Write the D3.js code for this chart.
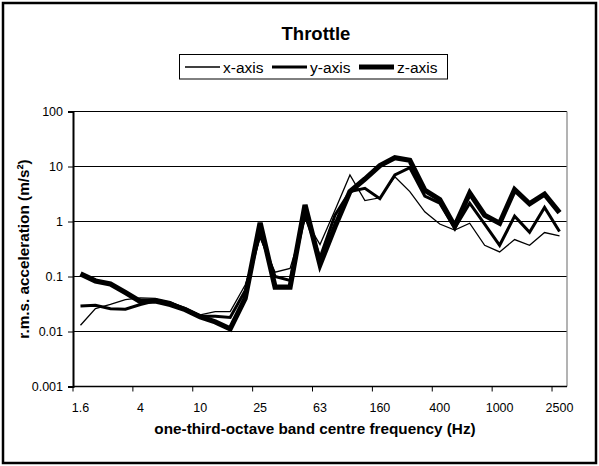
<!DOCTYPE html>
<html><head><meta charset="utf-8">
<script src="https://cdn.jsdelivr.net/npm/d3@7"></script>
<style>body{margin:0;background:#fff}svg{display:block}text{font-family:"Liberation Sans",Arial,sans-serif}</style>
</head><body>
<script>
const categories = ["1.6","2","2.5","3.15","4","5","6.3","8","10","12.5","16","20","25","31.5","40","50","63","80","100","125","160","200","250","315","400","500","630","800","1000","1250","1600","2000","2500"];
const xAxisValues = [0.013,0.026,0.031,0.038,0.041,0.040,0.035,0.026,0.020,0.023,0.023,0.07,0.5,0.12,0.14,1.1,0.38,1.6,7.0,2.4,2.7,6.5,3.5,1.5,0.9,0.7,0.93,0.37,0.28,0.47,0.37,0.63,0.55];
const yAxisValues = [0.029,0.030,0.026,0.0255,0.031,0.036,0.033,0.026,0.019,0.019,0.018,0.055,0.6,0.1,0.085,1.3,0.22,1.3,3.5,4.0,2.6,7.0,9.5,2.9,2.15,0.76,2.15,0.9,0.37,1.25,0.64,1.8,0.66];
const zAxisValues = [0.112,0.083,0.073,0.051,0.035,0.036,0.031,0.025,0.0185,0.015,0.0112,0.04,0.95,0.064,0.064,2.0,0.165,0.8,3.5,5.9,10.4,14.5,13,3.7,2.5,0.82,3.3,1.3,0.93,3.8,2.1,3.15,1.45];
const seriesNames = ["x-axis","y-axis","z-axis"];
const yTicks = [0.001,0.01,0.1,1,10,100];
const xTickLabels = ["1.6","4","10","25","63","160","400","1000","2500"];
const title = "Throttle";
const xTitle = "one-third-octave band centre frequency (Hz)";
const yTitle = "r.m.s. acceleration (m/s²)";

const W = 599, H = 466;
const plot = {l: 73, r: 567, t: 111.5, b: 386.5};
const svg = d3.select("body").append("svg").attr("width", W).attr("height", H);

svg.append("rect").attr("x", 3).attr("y", 3).attr("width", W - 6).attr("height", H - 6)
  .attr("fill", "#fff").attr("stroke", "#000").attr("stroke-width", 2.5);

const x = d3.scaleBand().domain(categories).range([plot.l, plot.r]).padding(0);
const y = d3.scaleLog().domain([0.001, 100]).range([plot.b, plot.t]);

// gridlines
svg.append("g").selectAll("line").data(yTicks.filter(v => v > 0.001)).join("line")
  .attr("x1", plot.l).attr("x2", plot.r).attr("y1", d => y(d)).attr("y2", d => y(d))
  .attr("stroke", "#000").attr("stroke-width", 1);
// right border
svg.append("line").attr("x1", plot.r).attr("x2", plot.r).attr("y1", plot.t).attr("y2", plot.b)
  .attr("stroke", "#808080").attr("stroke-width", 1.2);

// y axis
const yAxis = d3.axisLeft(y).tickValues(yTicks).tickFormat(d => String(d)).tickSize(5).tickPadding(5);
const gy = svg.append("g").attr("transform", `translate(${plot.l},0)`).call(yAxis);
gy.select(".domain").attr("stroke", "#000").attr("stroke-width", 2);
gy.selectAll(".tick line").attr("stroke", "#000").attr("stroke-width", 1);
gy.selectAll("text").attr("font-size", "12.5px").attr("fill", "#000").attr("font-family", '"Liberation Sans",Arial,sans-serif');

// x axis: ticks at category boundaries every 4, labels centred in category
const tickPos = xTickLabels.map(c => x(c));
const gx = svg.append("g");
gx.append("line").attr("x1", plot.l).attr("x2", plot.r).attr("y1", plot.b).attr("y2", plot.b)
  .attr("stroke", "#000").attr("stroke-width", 1.5);
gx.selectAll("line.tk").data(tickPos).join("line").attr("class", "tk")
  .attr("x1", d => d).attr("x2", d => d).attr("y1", plot.b).attr("y2", plot.b + 5)
  .attr("stroke", "#000").attr("stroke-width", 1);
gx.selectAll("text").data(xTickLabels).join("text")
  .attr("x", d => x(d) + x.bandwidth() / 2).attr("y", plot.b + 25)
  .attr("text-anchor", "middle").attr("font-size", "12.5px").text(d => d);

// titles
svg.append("text").attr("x", 316).attr("y", 40).attr("text-anchor", "middle")
  .attr("font-size", "18.5px").attr("font-weight", "bold").text(title);
svg.append("text").attr("x", (plot.l + plot.r) / 2 - 5).attr("y", plot.b + 47).attr("text-anchor", "middle")
  .attr("font-size", "15.3px").attr("font-weight", "bold").text(xTitle);
svg.append("text").attr("transform", `translate(29,${(plot.t + plot.b) / 2}) rotate(-90)`)
  .attr("text-anchor", "middle").attr("font-size", "15.3px").attr("font-weight", "bold").text(yTitle);

// series
const widths = [1.3, 3, 5.2];
const allSeries = [xAxisValues, yAxisValues, zAxisValues];
const line = d3.line().x((d, i) => x(categories[i]) + x.bandwidth() / 2).y(d => y(d));
allSeries.forEach((vals, k) => {
  svg.append("path").datum(vals).attr("d", line).attr("fill", "none")
    .attr("stroke", "#000").attr("stroke-width", widths[k]).attr("stroke-linejoin", "miter").attr("stroke-miterlimit", 4);
});

// legend
const lg = svg.append("g");
lg.append("rect").attr("x", 179.5).attr("y", 54.5).attr("width", 268).attr("height", 24.5)
  .attr("fill", "#fff").attr("stroke", "#000").attr("stroke-width", 1);
const lgX = [185, 272, 359];
seriesNames.forEach((n, k) => {
  lg.append("line").attr("x1", lgX[k]).attr("x2", lgX[k] + 35).attr("y1", 67).attr("y2", 67)
    .attr("stroke", "#000").attr("stroke-width", widths[k]);
  lg.append("text").attr("x", lgX[k] + 38).attr("y", 72.5).attr("font-size", "15.5px").text(n);
});
</script>
</body></html>
